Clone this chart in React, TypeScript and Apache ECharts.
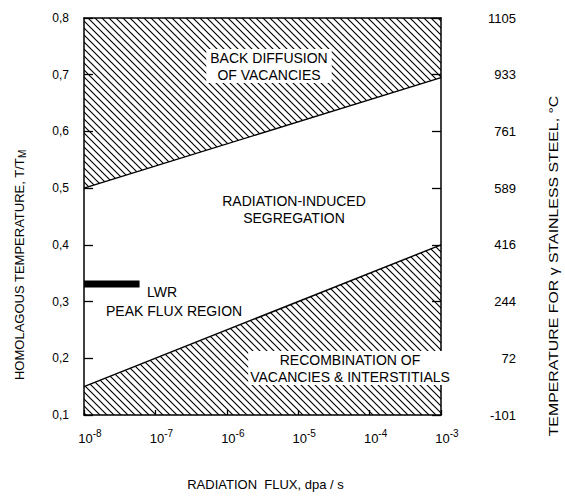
import React, { useEffect, useRef } from 'react';
import * as echarts from 'echarts';

// Radiation flux range (dpa/s), log axis
const FLUX_MIN = 1e-8;
const FLUX_MAX = 1e-3;

// Homologous temperature range T/Tm
const T_MIN = 0.1;
const T_MAX = 0.8;
const T_STEP = 0.1;

// Right-hand axis: matching temperature for gamma stainless steel, degC
const TEMP_LABELS = ['-101', '72', '244', '416', '589', '761', '933', '1105'];

// Boundary below the back-diffusion regime [flux, T/Tm]
const BACK_DIFFUSION_EDGE: [number, number][] = [
  [1e-8, 0.5],
  [1e-3, 0.695],
];

// Boundary above the recombination regime [flux, T/Tm]
const RECOMBINATION_EDGE: [number, number][] = [
  [1e-8, 0.15],
  [1e-3, 0.4],
];

// LWR peak flux region marker [flux, T/Tm]
const LWR_PEAK: [number, number][] = [
  [1e-8, 0.331],
  [6e-8, 0.331],
];

const FONT = "'Liberation Sans', Arial, Helvetica, sans-serif";

const HATCH_SVG =
  "<svg xmlns='http://www.w3.org/2000/svg' width='7' height='7'>" +
  "<path d='M-1,-1 L8,8 M-1,6 L1,8 M6,-1 L8,1' stroke='black' stroke-width='1.15' fill='none'/></svg>";
const hatch = {
  image: 'data:image/svg+xml;charset=utf-8,' + encodeURIComponent(HATCH_SVG),
  repeat: 'repeat',
  imageWidth: 7,
  imageHeight: 7,
};

export default function App() {
  const ref = useRef<HTMLDivElement>(null);

  useEffect(() => {
    if (!ref.current) return;
    const chart = echarts.init(ref.current, undefined, { renderer: 'svg' });

    const axisLine = { show: true, lineStyle: { color: '#000', width: 1.5 } };
    const regionText = {
      align: 'center',
      verticalAlign: 'middle',
      fontSize: 14,
      fontFamily: FONT,
      lineHeight: 17,
      fill: '#000',
    };

    chart.setOption({
      animation: false,
      backgroundColor: '#fff',
      textStyle: { fontFamily: FONT, color: '#000' },
      grid: { left: 84, right: 124, top: 18, bottom: 71, containLabel: false },
      xAxis: [
        {
          type: 'log',
          logBase: 10,
          min: FLUX_MIN,
          max: FLUX_MAX,
          position: 'bottom',
          axisLine,
          axisTick: { show: true, inside: true, length: 5, lineStyle: { color: '#000', width: 1.3 } },
          minorTick: { show: false },
          splitLine: { show: false },
          axisLabel: {
            margin: 13,
            color: '#000',
            padding: [0, 0, 0, 12],
            formatter: (v: number) => `{b|10}{e|${Math.round(Math.log10(v))}}`,
            rich: {
              b: { fontSize: 13, fontFamily: FONT, color: '#000' },
              e: { fontSize: 10, fontFamily: FONT, color: '#000', padding: [0, 0, 10, 0] },
            },
          },
          name: 'RADIATION  FLUX, dpa / s',
          nameLocation: 'middle',
          nameGap: 63,
          nameTextStyle: { fontSize: 13, fontFamily: FONT, color: '#000', padding: [0, 0, 0, 6] },
        },
        {
          type: 'log',
          logBase: 10,
          min: FLUX_MIN,
          max: FLUX_MAX,
          position: 'top',
          axisLine,
          axisTick: { show: false },
          axisLabel: { show: false },
          splitLine: { show: false },
        },
      ],
      yAxis: [
        {
          type: 'value',
          min: T_MIN,
          max: T_MAX,
          interval: T_STEP,
          position: 'left',
          axisLine,
          axisTick: { show: true, inside: true, length: 9, lineStyle: { color: '#000', width: 1.3 } },
          splitLine: { show: false },
          axisLabel: {
            margin: 15,
            fontSize: 12,
            color: '#000',
            formatter: (v: number) => v.toFixed(1).replace('.', ','),
          },
        },
        {
          type: 'value',
          min: T_MIN,
          max: T_MAX,
          interval: T_STEP,
          position: 'right',
          axisLine,
          axisTick: { show: true, inside: true, length: 9, lineStyle: { color: '#000', width: 1.3 } },
          splitLine: { show: false },
          axisLabel: {
            margin: 75,
            align: 'right',
            fontSize: 13,
            color: '#000',
            formatter: (v: number) => TEMP_LABELS[Math.round((v - T_MIN) / T_STEP)],
          },
        },
      ],
      series: [
        {
          type: 'line',
          data: BACK_DIFFUSION_EDGE,
          symbol: 'none',
          lineStyle: { color: '#000', width: 1.4 },
          areaStyle: { origin: 'end', color: hatch as any, opacity: 1 },
          z: 2,
        },
        {
          type: 'line',
          data: RECOMBINATION_EDGE,
          symbol: 'none',
          lineStyle: { color: '#000', width: 1.4 },
          areaStyle: { origin: 'start', color: hatch as any, opacity: 1 },
          z: 2,
        },
        {
          type: 'line',
          data: LWR_PEAK,
          symbol: 'none',
          lineStyle: { color: '#000', width: 7, cap: 'butt' },
          z: 3,
        },
      ],
      graphic: [
        // left axis title, reading upward, with subscript M
        {
          type: 'text',
          x: 19,
          y: 265,
          rotation: Math.PI / 2,
          style: {
            text: '{t|HOMOLAGOUS TEMPERATURE, T/T}{s|M}',
            align: 'center',
            verticalAlign: 'middle',
            fill: '#000',
            rich: {
              t: { fontSize: 13, fontFamily: FONT, fill: '#000' },
              s: { fontSize: 10, fontFamily: FONT, fill: '#000', padding: [7, 0, 0, 0] },
            },
          },
        },
        // right axis title, reading upward
        {
          type: 'text',
          x: 554,
          y: 266,
          rotation: Math.PI / 2,
          scaleX: 1.22,
          style: {
            text: 'TEMPERATURE FOR \u03b3 STAINLESS STEEL, \u00b0C',
            align: 'center',
            verticalAlign: 'middle',
            fontSize: 13,
            fontFamily: FONT,
            fill: '#000',
          },
        },
        {
          type: 'text',
          x: 269,
          y: 66,
          z: 10,
          style: {
            ...regionText,
            text: 'BACK DIFFUSION\nOF VACANCIES',
            backgroundColor: '#fff',
            padding: [0, 4],
          },
        },
        {
          type: 'text',
          x: 294,
          y: 209,
          z: 10,
          style: { ...regionText, text: 'RADIATION-INDUCED\nSEGREGATION' },
        },
        {
          type: 'text',
          x: 350,
          y: 368,
          z: 10,
          style: {
            ...regionText,
            text: 'RECOMBINATION OF\nVACANCIES & INTERSTITIALS',
            backgroundColor: '#fff',
            padding: [0, 2],
          },
        },
        {
          type: 'text',
          x: 147,
          y: 292,
          z: 10,
          style: { ...regionText, align: 'left', text: 'LWR' },
        },
        {
          type: 'text',
          x: 106,
          y: 311,
          z: 10,
          style: { ...regionText, align: 'left', text: 'PEAK FLUX REGION' },
        },
      ],
    });

    return () => chart.dispose();
  }, []);

  return (
    <div
      ref={ref}
      style={{ position: 'fixed', left: 0, top: 0, width: 565, height: 496, background: '#fff' }}
    />
  );
}
